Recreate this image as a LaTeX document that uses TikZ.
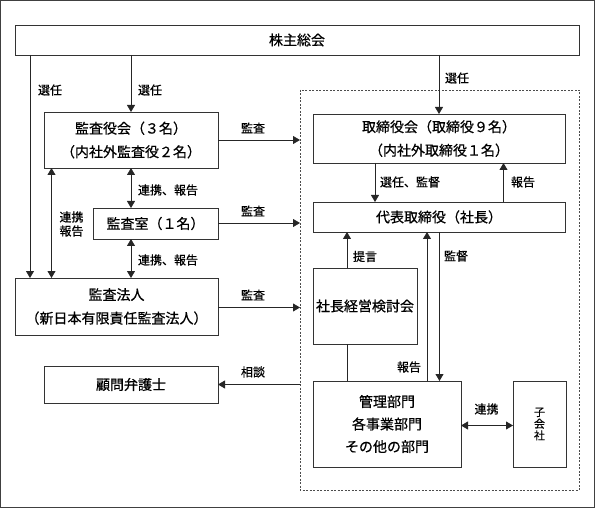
\documentclass[tikz,border=0pt]{standalone}
\usepackage{fontspec}
\setmainfont{Noto Sans CJK JP}[FakeBold=0.6]
\usetikzlibrary{arrows.meta}
\tikzset{
  box/.style={draw=black!80, line width=0.8pt, inner sep=0pt, outer sep=0pt, align=center,
    font=\fontsize{14}{23.5}\selectfont},
  lbl/.style={inner sep=0pt, font=\fontsize{12}{14}\selectfont},
  conn/.style={draw=black!85, line width=0.8pt},
  arr/.style={conn, -{Triangle[length=7pt,width=8pt]}},
  darr/.style={conn, {Triangle[length=7pt,width=8pt]}-{Triangle[length=7pt,width=8pt]}},
}
\begin{document}
\begin{tikzpicture}[x=1pt,y=-1pt]
\useasboundingbox (0,0) rectangle (595,508);
\draw[black!75, line width=1pt] (0.8,0.8) rectangle (594.2,507.2);
% dashed frame
\draw[black!70, line width=0.7pt, dash pattern=on 2pt off 1.5pt] (300,90) rectangle (579,490);
\coordinate (dl1) at (300,140);
\coordinate (dl2) at (300,223);
\coordinate (dl3) at (300,307.5);
\coordinate (dl4) at (300,384.5);

% boxes
\node[box, minimum width=564pt, minimum height=30pt] (soukai) at (297,40) {株主総会};
\node[box, minimum width=174pt, minimum height=56pt] (kansayaku) at (131,140) {監査役会（３名）\\（内社外監査役２名）};
\node[box, minimum width=125pt, minimum height=31pt] (kansashitsu) at (155.5,223.5) {監査室（１名）};
\node[box, minimum width=203pt, minimum height=57pt] (hojin) at (116.5,306.5) {監査法人\\（新日本有限責任監査法人）};
\node[box, minimum width=174pt, minimum height=37pt] (bengoshi) at (131,384.5) {顧問弁護士};
\node[box, minimum width=252pt, minimum height=49pt] (torishimari) at (439,138.5) {取締役会（取締役９名）\\（内社外取締役１名）};
\node[box, minimum width=252pt, minimum height=30pt] (daihyo) at (439,217) {代表取締役（社長）};
\node[box, minimum width=104pt, minimum height=76pt] (kento) at (365,306) {社長経営検討会};
\node[box, minimum width=148pt, minimum height=86pt, font=\fontsize{14}{22.5}\selectfont] (kanri) at (387,424) {管理部門\\各事業部門\\その他の部門};
\node[box, minimum width=53pt, minimum height=86pt, font=\fontsize{11}{11.7}\selectfont] (kogaisha) at (539.5,424) {子\\会\\社};

% connectors
\draw[arr] ([xshift=15pt]soukai.south west) -- ([xshift=15pt]hojin.north west);
\draw[arr] (soukai.south -| kansayaku.north) -- (kansayaku.north);
\draw[arr] (soukai.south -| torishimari.north) -- (torishimari.north);
\draw[darr] ([xshift=7.5pt]kansayaku.south west) -- ([xshift=7.5pt]kansayaku.south west |- hojin.north);
\draw[darr] (kansayaku.south) -- (kansayaku.south |- kansashitsu.north);
\draw[darr] (kansashitsu.south -| kansayaku.south) -- (kansayaku.south |- hojin.north);
\draw[arr] (kansayaku.east |- dl1) -- (dl1);
\draw[arr] (kansashitsu.east |- dl2) -- (dl2);
\draw[arr] (hojin.east |- dl3) -- (dl3);
\draw[arr] (dl4) -- (bengoshi.east |- dl4);
\draw[arr] ([xshift=62pt]torishimari.south west) -- ([xshift=62pt]daihyo.north west);
\draw[arr] ([xshift=190.5pt]daihyo.north west) -- ([xshift=190.5pt]torishimari.south west);
\draw[arr] ([xshift=34pt]kento.north west) -- ([xshift=34pt]daihyo.south west);
\draw[conn] ([xshift=34pt]kento.south west) -- ([xshift=34pt]kanri.north west);
\draw[arr] ([xshift=114pt]kanri.north west) -- ([xshift=114pt]daihyo.south west);
\draw[arr] ([xshift=126.5pt]daihyo.south west) -- ([xshift=126.5pt]kanri.north west);
\draw[darr] ([yshift=-1.5pt]kanri.east) -- ([yshift=-1.5pt]kogaisha.west);

% labels
\node[lbl] (l1) at (50,90) {選任};
\node[lbl] (l2) at (150,90) {選任};
\node[lbl] (l3) at (457,78) {選任};
\node[lbl] (l4) at (253,128) {監査};
\node[lbl] (l5) at (253,211) {監査};
\node[lbl] (l6) at (253,295) {監査};
\node[lbl] (l7) at (253,372) {相談};
\node[lbl] (l8) at (168,190) {連携、報告};
\node[lbl] (l9) at (168,260) {連携、報告};
\node[lbl] (l10) at (71.5,217) {連携};
\node[lbl] (l11) at (71.5,231) {報告};
\node[lbl] (l12) at (410,182) {選任、監督};
\node[lbl] (l13) at (523,182) {報告};
\node[lbl] (l14) at (365,256.5) {提言};
\node[lbl] (l15) at (456,256) {監督};
\node[lbl] (l16) at (409,367) {報告};
\node[lbl] (l17) at (486.5,409) {連携};
\end{tikzpicture}
\end{document}
